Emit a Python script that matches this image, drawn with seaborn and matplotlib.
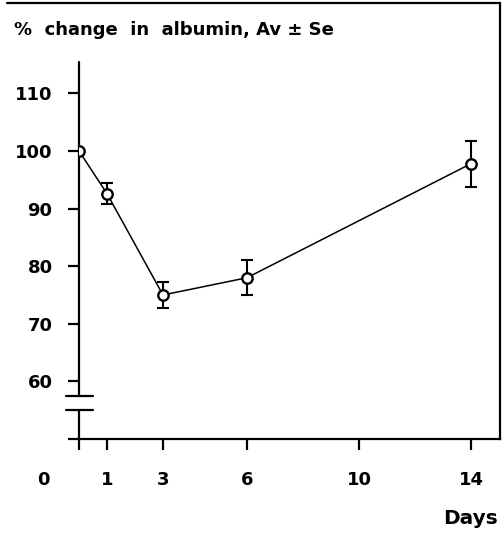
import matplotlib
matplotlib.use("Agg")
import matplotlib.pyplot as plt
from matplotlib.lines import Line2D
from matplotlib.transforms import ScaledTranslation
import seaborn as sns
import pandas as pd

# --- data ---
days = [0, 1, 3, 6, 14]
albumin_pct = [100, 92.6, 75, 78, 97.8]
albumin_se = [0, 1.8, 2.3, 3.0, 4.0]
x_ticks = [0, 1, 3, 6, 10, 14]
y_ticks = [60, 70, 80, 90, 100, 110]

df = pd.DataFrame({"day": days, "pct": albumin_pct, "se": albumin_se})

sns.set_style("white")
plt.rcParams["font.family"] = ["DejaVu Sans"]
plt.rcParams["font.weight"] = "bold"
plt.rcParams["text.color"] = "black"

FS = 13

fig = plt.figure(figsize=(5.04, 5.36), dpi=100)
ax = fig.add_axes([79 / 504, 1 - 439 / 536, 421 / 504, 436 / 536])

# error bars (mean +/- se), then the line with open circles
ax.errorbar(df["day"], df["pct"], yerr=df["se"], fmt="none", ecolor="black",
            elinewidth=1.5, capsize=4, capthick=1.5, zorder=2)
sns.lineplot(data=df, x="day", y="pct", ax=ax, color="black", linewidth=1.1,
             marker="o", markersize=7.5, markerfacecolor="white",
             markeredgecolor="black", markeredgewidth=1.7, zorder=3)

ax.set_xlim(0, 421 / 28)
ax.set_ylim(50, 50 + 436 / 5.76)

# spines: left axis is redrawn with a break, top replaced by a figure line
for side in ["left", "top"]:
    ax.spines[side].set_visible(False)
for side in ["bottom", "right"]:
    ax.spines[side].set_linewidth(1.6)
    ax.spines[side].set_color("black")

ax.plot([0, 0], [50, 55.0], color="black", lw=1.6, clip_on=False)
ax.plot([0, 0], [57.4, 115.4], color="black", lw=1.6, clip_on=False)
for yb in [55.0, 57.4]:
    ax.plot([-0.47, 0.5], [yb, yb], color="black", lw=1.6, clip_on=False)

ax.set_yticks([50] + y_ticks)
ax.set_yticklabels([""] + [str(v) for v in y_ticks])
ax.set_xticks(x_ticks)
ax.set_xticklabels([str(v) for v in x_ticks])
ax.tick_params(axis="both", direction="out", length=8, width=1.6,
               colors="black", labelsize=FS)
ax.tick_params(axis="y", left=True, pad=11)
ax.tick_params(axis="x", bottom=True, pad=15)

# the origin label sits left of the axis corner
zero_lab = ax.get_xticklabels()[0]
zero_lab.set_transform(zero_lab.get_transform()
                       + ScaledTranslation(-0.36, 0, fig.dpi_scale_trans))

ax.set_xlabel("")
ax.set_ylabel("")
fig.text(14 / 504, 1 - 30 / 536, "%  change  in  albumin, Av ± Se",
         fontsize=FS, fontweight="bold", ha="left", va="center")
fig.text(498 / 504, 1 - 519 / 536, "Days", fontsize=14.5, fontweight="bold",
         ha="right", va="center")

fig.add_artist(Line2D([7 / 504, 500 / 504], [1 - 3 / 536, 1 - 3 / 536],
                      color="black", lw=1.6))

fig.savefig("out.png", dpi=100)
